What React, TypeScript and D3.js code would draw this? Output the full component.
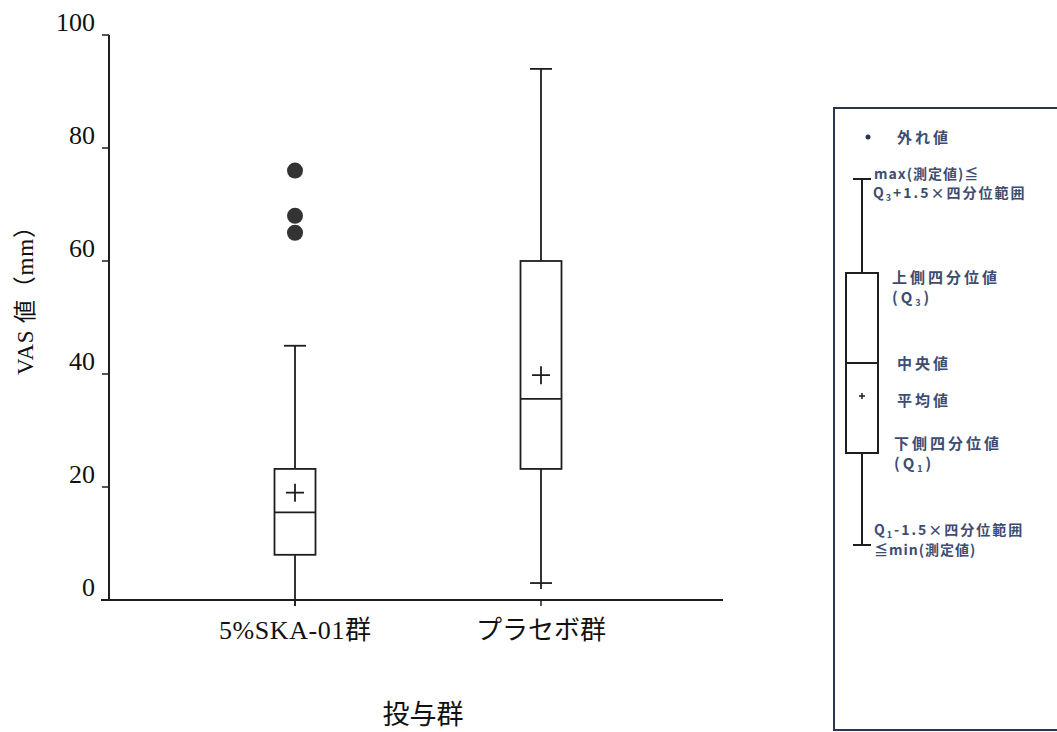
import React from "react";
import * as d3 from "d3";

const categories = ["5%SKA-01群", "プラセボ群"];
const whiskerLow = [0, 3];
const q1 = [8, 23.2];
const median = [15.5, 35.6];
const q3 = [23.2, 60];
const whiskerHigh = [45, 94];
const means = [19, 39.8];
const outliers: number[][] = [[76, 68, 65], []];
const yTicks = [0, 20, 40, 60, 80, 100];

const W = 1057;
const H = 732;
const serif = "'Liberation Serif', 'Times New Roman', 'Noto Sans CJK JP', serif";
const legendColor = "#3d4c70";
const legendFont = "'Noto Sans CJK JP', 'DejaVu Sans', sans-serif";

export default function App() {
  const y = d3.scaleLinear().domain([0, 100]).range([600, 35]);
  const x = d3.scalePoint<string>().domain(categories).range([295, 541]);
  const axisX0 = 109;
  const axisX1 = 723;
  const boxW = 41;
  const capW = 22;
  const ink = "#1e1e1e";

  // legend schematic
  const lx = 862;
  const lg = { top: 179, q3: 273, med: 363, mean: 396, q1: 453, bot: 545 };

  return (
    <svg width={W} height={H} style={{ position: "absolute", left: 0, top: 0, background: "#fff" }}>
      <rect x={0} y={0} width={W} height={H} fill="#fff" />
      {/* axes */}
      <line x1={axisX0} x2={axisX0} y1={y(100)} y2={y(0)} stroke={ink} strokeWidth={2} />
      <line x1={axisX0 - 8} x2={axisX1} y1={y(0)} y2={y(0)} stroke={ink} strokeWidth={2} />
      {yTicks.map((t) => (
        <g key={t}>
          <line x1={axisX0 - 7} x2={axisX0} y1={y(t)} y2={y(t)} stroke={ink} strokeWidth={1.5} />
          <text x={95} y={y(t) - 4} textAnchor="end" fontFamily={serif} fontSize={26} fill="#111">
            {t}
          </text>
        </g>
      ))}
      {categories.map((c, i) => (
        <g key={c}>
          <line x1={x(c)!} x2={x(c)!} y1={y(0)} y2={y(0) + 6} stroke={ink} strokeWidth={1.5} />
          {i === 0 ? (
            <text
              x={x(c)! - 76}
              y={639}
              fontFamily={serif}
              fontSize={26}
              fill="#111"
              textLength={152}
              lengthAdjust="spacing"
            >
              {c}
            </text>
          ) : (
            <text x={x(c)!} y={639} textAnchor="middle" fontFamily={serif} fontSize={26} fill="#111">
              {c}
            </text>
          )}
        </g>
      ))}
      <text
        transform={`translate(33, 375) rotate(-90)`}
        fontFamily={serif}
        fontSize={23}
        fill="#111"
        textLength={160}
        lengthAdjust="spacing"
      >
        VAS 値（mm）
      </text>
      <text x={423} y={724} textAnchor="middle" fontFamily={serif} fontSize={27} fill="#111">
        投与群
      </text>

      {/* boxes */}
      {categories.map((c, i) => {
        const cx = x(c)!;
        return (
          <g key={c} stroke={ink} strokeWidth={1.8} fill="none">
            <line x1={cx} x2={cx} y1={y(q3[i])} y2={y(whiskerHigh[i])} />
            <line x1={cx} x2={cx} y1={y(q1[i])} y2={y(whiskerLow[i]) + 6} />
            <line x1={cx - capW / 2} x2={cx + capW / 2} y1={y(whiskerHigh[i])} y2={y(whiskerHigh[i])} />
            <line x1={cx - capW / 2} x2={cx + capW / 2} y1={y(whiskerLow[i])} y2={y(whiskerLow[i])} />
            <rect x={cx - boxW / 2} y={y(q3[i])} width={boxW} height={y(q1[i]) - y(q3[i])} fill="#fff" />
            <line x1={cx - boxW / 2} x2={cx + boxW / 2} y1={y(median[i])} y2={y(median[i])} />
            <line x1={cx - 9} x2={cx + 9} y1={y(means[i])} y2={y(means[i])} />
            <line x1={cx} x2={cx} y1={y(means[i]) - 9} y2={y(means[i]) + 9} />
            {outliers[i].map((o, j) => (
              <circle key={j} cx={cx} cy={y(o)} r={8} fill="#333" stroke="none" />
            ))}
          </g>
        );
      })}

      {/* legend */}
      <rect x={834} y={108} width={260} height={622} fill="#fff" stroke="#2b3550" strokeWidth={2} />
      <circle cx={868} cy={137} r={2.5} fill="#2b3550" />
      <g stroke="#1e1e1e" strokeWidth={2} fill="none">
        <line x1={lx} x2={lx} y1={lg.top} y2={lg.q3} />
        <line x1={lx} x2={lx} y1={lg.q1} y2={lg.bot} />
        <line x1={lx - 9} x2={lx + 9} y1={lg.top} y2={lg.top} />
        <line x1={lx - 9} x2={lx + 9} y1={lg.bot} y2={lg.bot} />
        <rect x={846} y={lg.q3} width={32} height={lg.q1 - lg.q3} fill="#fff" />
        <line x1={846} x2={878} y1={lg.med} y2={lg.med} />
        <line x1={lx - 3} x2={lx + 3} y1={lg.mean} y2={lg.mean} strokeWidth={1.5} />
        <line x1={lx} x2={lx} y1={lg.mean - 3} y2={lg.mean + 3} strokeWidth={1.5} />
      </g>
      <g fontFamily={legendFont} fontSize={15} fontWeight="bold" fill={legendColor} letterSpacing={3}>
        <text x={897} y={143}>外れ値</text>
        <text x={874} y={179} fontSize={14} letterSpacing={1}>max(測定値)≦</text>
        <text x={873} y={198} fontSize={14} letterSpacing={2}>
          Q<tspan fontSize={9} dy={3}>3</tspan>
          <tspan dy={-3}>+1.5×四分位範囲</tspan>
        </text>
        <text x={892} y={283}>上側四分位値</text>
        <text x={892} y={303}>
          (Q<tspan fontSize={9} dy={3}>3</tspan>
          <tspan dy={-3}>)</tspan>
        </text>
        <text x={897} y={369}>中央値</text>
        <text x={897} y={406}>平均値</text>
        <text x={894} y={449}>下側四分位値</text>
        <text x={894} y={469}>
          (Q<tspan fontSize={9} dy={3}>1</tspan>
          <tspan dy={-3}>)</tspan>
        </text>
        <text x={874} y={535} fontSize={14} letterSpacing={2}>
          Q<tspan fontSize={9} dy={3}>1</tspan>
          <tspan dy={-3}>-1.5×四分位範囲</tspan>
        </text>
        <text x={874} y={555} fontSize={14} letterSpacing={1}>≦min(測定値)</text>
      </g>
    </svg>
  );
}
